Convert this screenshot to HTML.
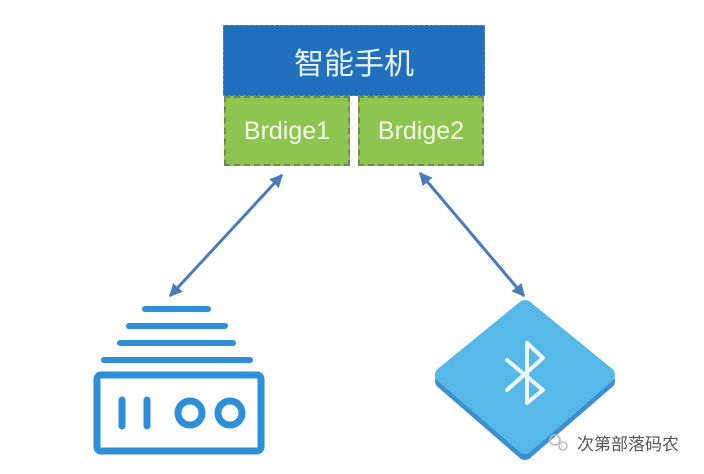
<!DOCTYPE html>
<html><head><meta charset="utf-8"><style>
body{margin:0;width:704px;height:474px;background:#fff;overflow:hidden;position:relative;font-family:"Liberation Sans","Noto Sans CJK SC",sans-serif}
.b{position:absolute;box-sizing:border-box;display:flex;align-items:center;justify-content:center;color:#f4f9e8}
</style></head><body>
<div class="b" style="left:223px;top:25px;width:262px;height:71px;background:#2170bd;border:1.5px dashed #5a8ab8;font-size:30px;color:#eef4fb">智能手机</div>
<div class="b" style="left:224px;top:96px;width:126px;height:70px;background:#8dc550;border:2px dashed #6e8a55;font-size:25px">Brdige1</div>
<div class="b" style="left:358px;top:96px;width:126px;height:70px;background:#8dc550;border:2px dashed #6e8a55;font-size:25px">Brdige2</div>
<svg width="704" height="474" style="position:absolute;left:0;top:0">
<defs>
<marker id="m" viewBox="0 0 10 10" markerWidth="13" markerHeight="13" refX="9" refY="5" orient="auto-start-reverse" markerUnits="userSpaceOnUse"><path d="M0,0 L10,5 L0,10 Z" fill="#4a7ab8"/></marker></defs>
<line x1="282" y1="175" x2="170" y2="296" stroke="#4a7ab8" stroke-width="3" marker-start="url(#m)" marker-end="url(#m)"/>
<line x1="420" y1="173" x2="524" y2="296" stroke="#4a7ab8" stroke-width="3" marker-start="url(#m)" marker-end="url(#m)"/>
<g stroke="#2d8fd5" stroke-linecap="round" fill="none">
<line x1="145" y1="309" x2="208" y2="309" stroke-width="6"/>
<line x1="129" y1="326" x2="225" y2="326" stroke-width="6"/>
<line x1="120" y1="343" x2="233" y2="343" stroke-width="6"/>
<line x1="104" y1="360" x2="250" y2="360" stroke-width="6"/>
<rect x="97" y="375" width="164" height="76" rx="4" stroke-width="7"/>
<line x1="122" y1="400" x2="122" y2="426" stroke-width="7"/>
<line x1="147" y1="400" x2="147" y2="426" stroke-width="7"/>
<circle cx="190" cy="413" r="12" stroke-width="7"/>
<circle cx="230" cy="413" r="12" stroke-width="7"/>
</g>
<path d="M525,314 L607,381 L525,452 L443,381 Z" fill="#3d8fd0" stroke="#3d8fd0" stroke-width="16" stroke-linejoin="round"/>
<path d="M525,308 L607,375 L525,446 L443,375 Z" fill="#56b8e6" stroke="#56b8e6" stroke-width="16" stroke-linejoin="round"/>
<path d="M507,360 L543,390 L527,403 L527,343 L543,358 L507,390" fill="none" stroke="#eef8fd" stroke-width="4" stroke-linejoin="round" stroke-linecap="round"/>
<circle cx="555" cy="440" r="5" fill="none" stroke="#bbb" stroke-width="1.5"/>
<circle cx="563" cy="446" r="4" fill="none" stroke="#bbb" stroke-width="1.5"/>
<text x="577" y="450" font-size="17" fill="#555" font-family="Liberation Sans, Noto Sans CJK SC, sans-serif">次第部落码农</text>
</svg>
</body></html>
